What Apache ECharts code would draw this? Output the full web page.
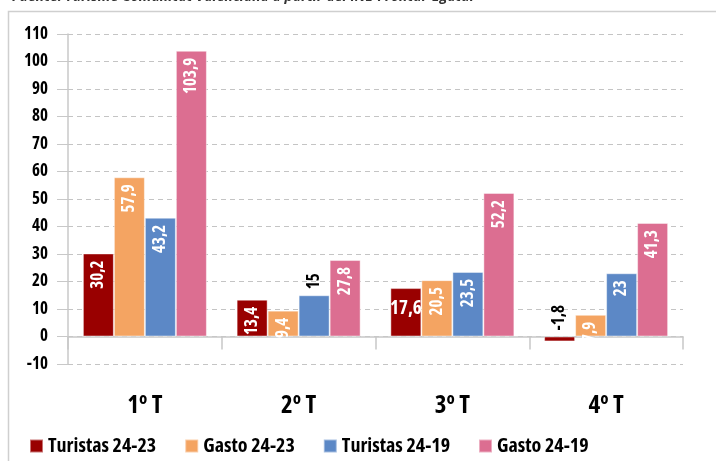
<!DOCTYPE html>
<html>
<head>
<meta charset="utf-8">
<style>
  html, body { margin: 0; padding: 0; background: #fff; }
  #chart { width: 716px; height: 461px; }
</style>
<script src="https://cdn.jsdelivr.net/npm/echarts@6/dist/echarts.min.js"></script>
</head>
<body>
<div id="chart"></div>
<script>
  /** Data */
  var categories = ['1º T', '2º T', '3º T', '4º T'];
  var seriesNames = ['Turistas 24-23', 'Gasto 24-23', 'Turistas 24-19', 'Gasto 24-19'];
  var turistas2423 = [30.2, 13.4, 17.6, -1.8];
  var gasto2423 = [57.9, 9.4, 20.5, 7.9];
  var turistas2419 = [43.2, 15, 23.5, 23];
  var gasto2419 = [103.9, 27.8, 52.2, 41.3];
  var colors = ['#990000', '#f4a462', '#5c88c6', '#dc6e91'];

  // condensed face of Open Sans (width axis), passed through the weight slot
  var font = "'Open Sans', 'Roboto', sans-serif";
  var weight = 'bold condensed';

  function fmt(v) {
    return String(v).replace('.', ',');
  }

  // white rotated label inside top of bar
  var insideLabel = {
    show: true,
    position: 'insideTop',
    rotate: 90,
    align: 'right',
    verticalAlign: 'middle',
    distance: 7,
    color: '#fff',
    fontFamily: font,
    fontWeight: weight,
    fontSize: 17,
    formatter: function(p) { return fmt(p.value); }
  };

  // black rotated label above the bar
  var outsideLabel = {
    show: true,
    position: 'top',
    rotate: 90,
    align: 'left',
    verticalAlign: 'middle',
    distance: 6,
    color: '#000'
  };

  function toData(values, overrides) {
    return values.map(function(v, i) {
      var item = { value: v };
      if (overrides && overrides[i]) item.label = overrides[i];
      return item;
    });
  }

  var series = [
    toData(turistas2423, { 2: { rotate: 0, align: 'center', verticalAlign: 'top', distance: 11, fontSize: 19 }, 3: outsideLabel }),
    toData(gasto2423),
    toData(turistas2419, { 1: outsideLabel }),
    toData(gasto2419)
  ].map(function(data, i) {
    return {
      name: seriesNames[i],
      type: 'bar',
      data: data,
      barWidth: 31,
      barGap: '0%',
      label: insideLabel,
      itemStyle: {
        color: colors[i],
        borderColor: 'rgba(255,255,255,0.45)',
        borderWidth: 1
      }
    };
  });

  var option = {
    animation: false,
    color: colors,
    graphic: [{
      type: 'rect',
      shape: { x: 8.5, y: 11.5, width: 800, height: 500 },
      style: { fill: 'none', stroke: '#cfcfcf', lineWidth: 1.5 },
      silent: true
    }, {
      type: 'text',
      left: 12,
      top: -10,
      style: {
        text: 'Fuente: Turisme Comunitat Valenciana a partir del INE-Frontur-Egatur',
        fill: '#333',
        font: 'italic bold 14px ' + font
      },
      silent: true
    }],
    grid: {
      left: 68,
      right: 33,
      top: 34,
      bottom: 97
    },
    legend: {
      data: seriesNames,
      left: 24,
      top: 431,
      itemWidth: 13,
      itemHeight: 13,
      itemGap: 28,
      icon: 'rect',
      textStyle: {
        fontFamily: font,
        fontWeight: weight,
        fontSize: 20,
        color: '#000'
      }
    },
    xAxis: {
      type: 'category',
      data: categories,
      axisLine: { onZero: true, lineStyle: { color: '#c8c8c8', width: 1.5 } },
      axisTick: { show: true, length: 13, lineStyle: { color: '#c8c8c8', width: 1.5 } },
      axisLabel: {
        margin: 29,
        color: '#000',
        fontFamily: font,
        fontWeight: weight,
        fontSize: 25
      }
    },
    yAxis: {
      type: 'value',
      min: -10,
      max: 110,
      interval: 10,
      axisLine: { show: true, lineStyle: { color: '#c8c8c8', width: 1.5 } },
      axisTick: { show: true, length: 11, lineStyle: { color: '#c8c8c8' } },
      axisLabel: {
        margin: 20,
        color: '#000',
        fontFamily: font,
        fontWeight: weight,
        fontSize: 17
      },
      splitLine: { lineStyle: { color: '#c4c4c4', type: [5, 4] } }
    },
    series: series
  };

  echarts.init(document.getElementById('chart')).setOption(option);
</script>
</body>
</html>
